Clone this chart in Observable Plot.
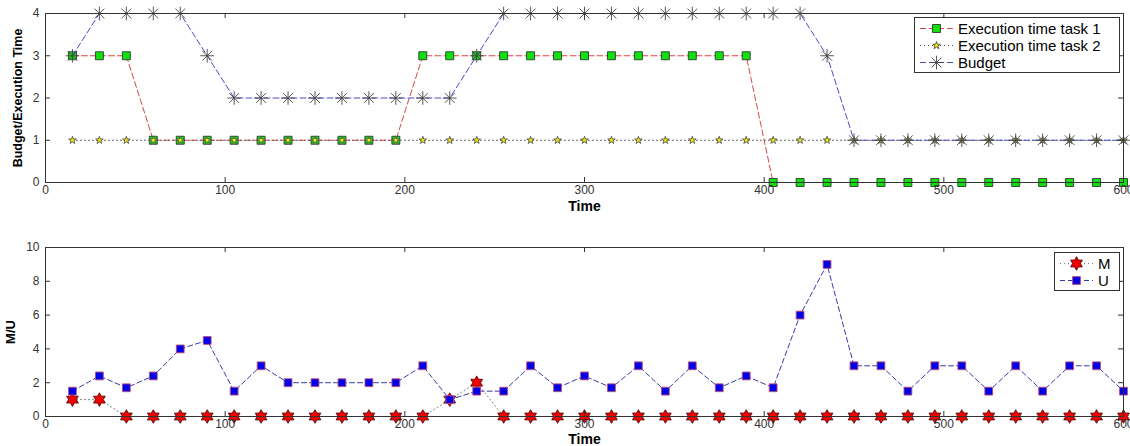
<!DOCTYPE html>
<html><head><meta charset="utf-8">
<script src="https://cdn.jsdelivr.net/npm/d3@7"></script>
<script src="https://cdn.jsdelivr.net/npm/@observablehq/plot@0.6"></script>
<style>
body{margin:0;background:#fff;font-family:"Liberation Sans",Arial,sans-serif;}
#wrap{position:relative;width:1130px;height:446px;overflow:hidden;}
#wrap svg.chart{display:block;}
.legend{position:absolute;border:1px solid #333;background:#fff;font-family:"Liberation Sans",Arial,sans-serif;font-size:15px;color:#000;box-sizing:border-box;}
.legend .row{display:flex;align-items:center;height:17px;white-space:nowrap;}
.legend svg{flex:none;}
</style></head><body><div id="wrap"></div>
<script>
// ---------- data ----------
const time = [15,30,45,60,75,90,105,120,135,150,165,180,195,210,225,240,255,270,285,300,
              315,330,345,360,375,390,405,420,435,450,465,480,495,510,525,540,555,570,585,600];
const task1 = [3,3,3,1,1,1,1,1,1,1,1,1,1,3,3,3,3,3,3,3,
               3,3,3,3,3,3,0,0,0,0,0,0,0,0,0,0,0,0,0,0];
const task2 = [1,1,1,1,1,1,1,1,1,1,1,1,1,1,1,1,1,1,1,1,
               1,1,1,1,1,1,1,1,1,1,1,1,1,1,1,1,1,1,1,1];
const budget = [3,4,4,4,4,3,2,2,2,2,2,2,2,2,2,3,4,4,4,4,
                4,4,4,4,4,4,4,4,3,1,1,1,1,1,1,1,1,1,1,1];
const M = [1,1,0,0,0,0,0,0,0,0,0,0,0,0,1,2,0,0,0,0,
           0,0,0,0,0,0,0,0,0,0,0,0,0,0,0,0,0,0,0,0];
const U = [1.5,2.4,1.7,2.4,4,4.5,1.5,3,2,2,2,2,2,3,1,1.5,1.5,3,1.7,2.4,
           1.7,3,1.5,3,1.7,2.4,1.7,6,9,3,3,1.5,3,3,1.5,3,1.5,3,3,1.5];
const xTicks = [0,100,200,300,400,500,600];
const yTicksTop = [0,1,2,3,4];
const yTicksBottom = [0,2,4,6,8,10];
const topLabels = ["Execution time task 1","Execution time task 2","Budget"];
const bottomLabels = ["M","U"];

// ---------- symbols ----------
const matAsterisk = {draw(ctx, size){
  const r = Math.sqrt(size/Math.PI), d = r*0.72;
  ctx.moveTo(0,-r); ctx.lineTo(0,r);
  ctx.moveTo(-r,0); ctx.lineTo(r,0);
  ctx.moveTo(-d,-d); ctx.lineTo(d,d);
  ctx.moveTo(-d,d); ctx.lineTo(d,-d);
}};
const hexagram = {draw(ctx, size){
  const r = Math.sqrt(size/Math.PI), ri = r/Math.sqrt(3);
  for (let i=0;i<12;i++){
    const a = -Math.PI/2 + i*Math.PI/6, rr = i%2 ? ri : r;
    const x = rr*Math.cos(a), y = rr*Math.sin(a);
    i ? ctx.lineTo(x,y) : ctx.moveTo(x,y);
  }
  ctx.closePath();
}};

const st = {
  t1Line:{stroke:"#d84848", dash:"6,3"},
  t1Dot:{symbol:"square", r:4.5, fill:"#10e010", stroke:"#2a3a2a"},
  t2Line:{stroke:"#555", dash:"1,3"},
  t2Dot:{symbol:"star", r:2.4, fill:"#f4f000", stroke:"#555"},
  bLine:{stroke:"#4a4ac8", dash:"6,3"},
  bDot:{symbol:matAsterisk, r:6.8, fill:"none", stroke:"#444"},
  mLine:{stroke:"#777", dash:"1,3"},
  mDot:{symbol:hexagram, r:6.8, fill:"#f00000", stroke:"#5a1010"},
  uLine:{stroke:"#3a3aa8", dash:"5,3"},
  uDot:{symbol:"square", r:4.4, fill:"#0000e8", stroke:"#c04878"}
};

const font = "Liberation Sans, Arial, Helvetica, sans-serif";
const W = 1130, ML = 45, MR = 7;
const innerW = W - ML - MR;

function series(ys){ return time.map((t,i)=>({t, v: ys[i]})); }
function lineMark(ys, s){ return Plot.line(series(ys), {x:"t", y:"v", stroke:s.stroke, strokeDasharray:s.dash, strokeWidth:1}); }
function dotMark(ys, s){ return Plot.dot(series(ys), {x:"t", y:"v", symbol:()=>s.symbol, r:s.r, fill:s.fill, stroke:s.stroke, strokeWidth:0.9}); }

function makePlot({height, mt, mb, yDomain, yTicks, yLabel, yLabelOffset, yLabelSize, xLabelOffset, marks}){
  const innerH = height - mt - mb;
  const p = Plot.plot({
    width: W, height, marginTop: mt, marginBottom: mb, marginLeft: ML, marginRight: MR,
    style:{fontFamily: font, fontSize:"12px", color:"#333", background:"#fff", overflow:"visible"},
    x:{domain:[0,600]},
    y:{domain:yDomain},
    symbol:{type:"identity"},
    marks:[
      ...marks,
      Plot.frame({stroke:"#333", strokeWidth:1}),
      Plot.tickX(xTicks, {x:d=>d, stroke:"#333", insetTop: innerH-5}),
      Plot.tickX(xTicks, {x:d=>d, stroke:"#333", insetBottom: innerH-5}),
      Plot.tickY(yTicks, {y:d=>d, stroke:"#333", insetRight: innerW-5}),
      Plot.tickY(yTicks, {y:d=>d, stroke:"#333", insetLeft: innerW-5}),
      Plot.axisX({ticks:xTicks, tickSize:0, tickPadding:3, tickFormat:d=>String(d), label:"Time", labelAnchor:"center", labelArrow:"none", labelOffset:xLabelOffset, fill:"#333"}),
      Plot.axisY({ticks:yTicks, tickSize:0, tickPadding:6, tickFormat:d=>String(d), label:yLabel, labelAnchor:"center", labelArrow:"none", labelOffset:yLabelOffset, fill:"#333"})
    ]
  });
  p.classList.add("chart");
  const fix = (sel, label, size) => p.querySelectorAll(sel).forEach(t=>{
    t.textContent = label;
    t.setAttribute("font-weight","bold"); t.setAttribute("font-size", size); t.setAttribute("fill","#000");
  });
  fix('g[aria-label="x-axis label"] text', "Time", "14px");
  fix('g[aria-label="y-axis label"] text', yLabel, yLabelSize);
  return p;
}

const wrap = document.getElementById("wrap");
const top1 = makePlot({height:225, mt:13, mb:43, yDomain:[0,4], yTicks:yTicksTop,
  yLabel:"Budget/Execution Time", yLabelOffset:32, yLabelSize:"12.5px", xLabelOffset:28,
  marks:[lineMark(task1, st.t1Line), dotMark(task1, st.t1Dot),
         lineMark(task2, st.t2Line), dotMark(task2, st.t2Dot),
         lineMark(budget, st.bLine), dotMark(budget, st.bDot)]});
const bot = makePlot({height:221, mt:22, mb:30, yDomain:[0,10], yTicks:yTicksBottom,
  yLabel:"M/U", yLabelOffset:40, yLabelSize:"13px", xLabelOffset:27,
  marks:[lineMark(M, st.mLine), dotMark(M, st.mDot),
         lineMark(U, st.uLine), dotMark(U, st.uDot)]});
wrap.appendChild(top1);
wrap.appendChild(bot);

// ---------- legends ----------
function sample(lineS, dotS){
  const ns = "http://www.w3.org/2000/svg";
  const svg = document.createElementNS(ns,"svg");
  svg.setAttribute("width", 40); svg.setAttribute("height", 17);
  const l = document.createElementNS(ns,"line");
  l.setAttribute("x1",5); l.setAttribute("x2",38); l.setAttribute("y1",8.5); l.setAttribute("y2",8.5);
  l.setAttribute("stroke", lineS.stroke); l.setAttribute("stroke-dasharray", lineS.dash);
  svg.appendChild(l);
  const type = typeof dotS.symbol === "string" ? d3["symbol"+dotS.symbol[0].toUpperCase()+dotS.symbol.slice(1)] : dotS.symbol;
  const p = document.createElementNS(ns,"path");
  p.setAttribute("d", d3.symbol(type, Math.PI*dotS.r*dotS.r)());
  p.setAttribute("transform","translate(21.5,8.5)");
  p.setAttribute("fill", dotS.fill); p.setAttribute("stroke", dotS.stroke); p.setAttribute("stroke-width",0.9);
  svg.appendChild(p);
  return svg;
}
function legend(items, box){
  const d = document.createElement("div");
  d.className = "legend";
  Object.assign(d.style, box);
  items.forEach(([label, ls, ds])=>{
    const r = document.createElement("div"); r.className = "row";
    r.appendChild(sample(ls, ds));
    const s = document.createElement("span"); s.textContent = label; s.style.marginLeft = "3px";
    r.appendChild(s); d.appendChild(r);
  });
  wrap.appendChild(d);
}
legend([[topLabels[0], st.t1Line, st.t1Dot],[topLabels[1], st.t2Line, st.t2Dot],[topLabels[2], st.bLine, st.bDot]],
  {left:"914px", top:"17px", width:"206px", height:"56px", paddingTop:"2px"});
legend([[bottomLabels[0], st.mLine, st.mDot],[bottomLabels[1], st.uLine, st.uDot]],
  {left:"1054px", top:"252px", width:"66px", height:"39px", paddingTop:"2px"});
</script></body></html>
